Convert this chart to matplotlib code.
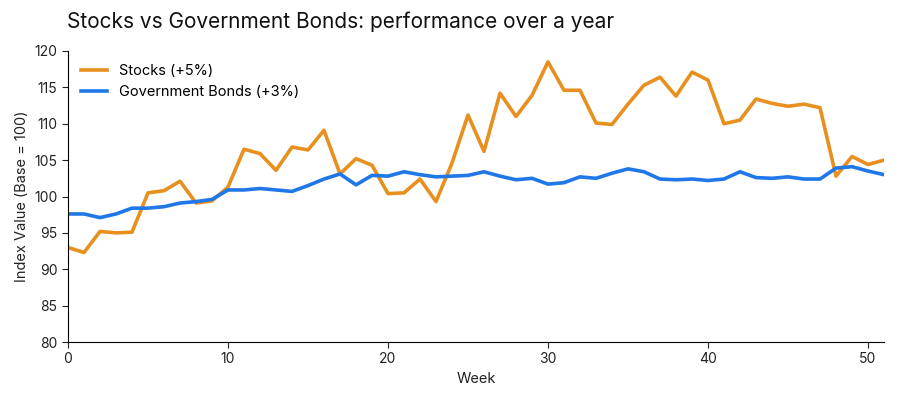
import matplotlib
matplotlib.use("Agg")
import matplotlib.pyplot as plt

weeks = list(range(52))
stocks = [93.0, 92.3, 95.2, 95.0, 95.1, 100.5, 100.8, 102.1, 99.1, 99.4,
          101.3, 106.5, 105.9, 103.6, 106.8, 106.4, 109.1, 103.1, 105.2, 104.3,
          100.4, 100.5, 102.4, 99.3, 104.6, 111.2, 106.2, 114.2, 111.0, 113.9,
          118.5, 114.6, 114.6, 110.1, 109.9, 112.7, 115.3, 116.4, 113.8, 117.1,
          116.0, 110.0, 110.5, 113.4, 112.8, 112.4, 112.7, 112.2, 102.8, 105.5,
          104.4, 105.0]
bonds = [97.6, 97.6, 97.1, 97.6, 98.4, 98.4, 98.6, 99.1, 99.3, 99.6,
         100.9, 100.9, 101.1, 100.9, 100.7, 101.5, 102.4, 103.1, 101.6, 102.9,
         102.8, 103.4, 103.0, 102.7, 102.8, 102.9, 103.4, 102.8, 102.3, 102.5,
         101.7, 101.9, 102.7, 102.5, 103.2, 103.8, 103.4, 102.4, 102.3, 102.4,
         102.2, 102.4, 103.4, 102.6, 102.5, 102.7, 102.4, 102.4, 103.9, 104.1,
         103.5, 103.0]
series_labels = ["Stocks (+5%)", "Government Bonds (+3%)"]
yticks = list(range(80, 121, 5))
xticks = [0, 10, 20, 30, 40, 50]

plt.rcParams['font.family'] = ['Inter', 'DejaVu Sans']

fig = plt.figure(figsize=(9, 4), dpi=100)
ax = fig.add_axes([68/900, 1-342/400, (884-68)/900, (342-51)/400])

ax.plot(weeks, stocks, color="#E8901F", lw=2.6, label=series_labels[0])
ax.plot(weeks, bonds, color="#1F77E8", lw=2.6, label=series_labels[1])

ax.set_xlim(0, 51)
ax.set_ylim(80, 120)
ax.set_yticks(yticks)
ax.set_xticks(xticks)
ax.spines['top'].set_visible(False)
ax.spines['right'].set_visible(False)
ax.tick_params(labelsize=10, colors="#222222", length=4)
ax.set_xlabel("Week", fontsize=10.5, color="#222222")
ax.set_ylabel("Index Value (Base = 100)", fontsize=10.5, color="#222222")
fig.text(67/900, 1-22/400, "Stocks vs Government Bonds: performance over a year",
         fontsize=15, color="#111111", va="center", ha="left")

ax.legend(loc="upper left", frameon=False, fontsize=10.5, handlelength=1.8,
          bbox_to_anchor=(0.0, 1.0))

fig.savefig("out.png", dpi=100)
